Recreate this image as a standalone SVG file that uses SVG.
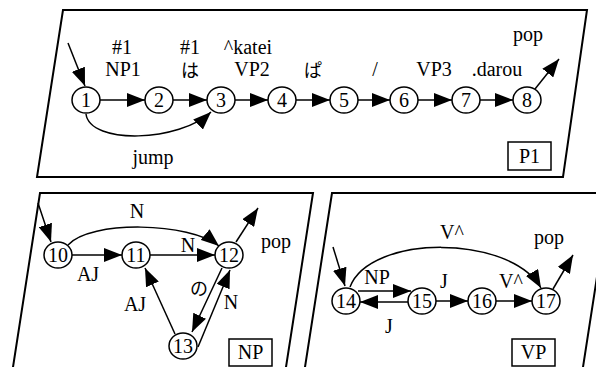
<svg xmlns="http://www.w3.org/2000/svg" width="596" height="367" viewBox="0 0 596 367">
<style>
.panel{fill:none;stroke:#000;stroke-width:2}
.nd{fill:#fff;stroke:#000;stroke-width:1.5}
.num{font-family:"Liberation Serif","Times New Roman",serif;font-size:20px;text-anchor:middle;fill:#000}
.lb{font-family:"Liberation Serif","Times New Roman",serif;font-size:20px;text-anchor:middle;fill:#000}
.jp{font-family:"Noto Sans CJK JP","Noto Sans CJK SC",sans-serif;font-size:18px;text-anchor:middle;fill:#000}
.ed{fill:none;stroke:#000;stroke-width:1.5;marker-end:url(#ah)}
.tag{fill:#fff;stroke:#000;stroke-width:1.5}
</style>
<defs>
<marker id="ah" markerUnits="userSpaceOnUse" viewBox="0 0 18 14" markerWidth="18" markerHeight="14" refX="18" refY="7" orient="auto">
<path d="M0,0 L18,7 L0,14 z" fill="#000"/>
</marker>
</defs>
<rect width="596" height="367" fill="#fff"/>

<g id="panels">
<polygon class="panel" points="63,10 587,10 563,177 37,177"/>
<polygon class="panel" points="40,193 313,193 284,380 11,380"/>
<polygon class="panel" points="332,193 610,193 581,380 303,380"/>
</g>

<g id="connectors">
<!-- P1 -->
<line class="ed" x1="68" y1="43" x2="85" y2="86"/>
<line class="ed" x1="100" y1="100" x2="145" y2="100"/>
<line class="ed" x1="173" y1="100" x2="207" y2="100"/>
<line class="ed" x1="235" y1="100" x2="268" y2="100"/>
<line class="ed" x1="296" y1="100" x2="330" y2="100"/>
<line class="ed" x1="358" y1="100" x2="390" y2="100"/>
<line class="ed" x1="418" y1="100" x2="452" y2="100"/>
<line class="ed" x1="480" y1="100" x2="513" y2="100"/>
<line class="ed" x1="535" y1="89" x2="559" y2="59"/>
<path class="ed" d="M86,114 C90,145 180,142 211,112"/>
<!-- NP -->
<line class="ed" x1="38" y1="203" x2="51" y2="242"/>
<line class="ed" x1="72" y1="255" x2="122" y2="255"/>
<line class="ed" x1="150" y1="255" x2="215" y2="255"/>
<path class="ed" d="M68,245 C90,220 190,222 219,246"/>
<line class="ed" x1="222" y1="268" x2="192" y2="332"/>
<line class="ed" x1="198" y1="347" x2="230" y2="270"/>
<line class="ed" x1="175" y1="334" x2="145" y2="268"/>
<line class="ed" x1="236" y1="242" x2="258" y2="208"/>
<!-- VP -->
<line class="ed" x1="333" y1="247" x2="345" y2="286"/>
<line class="ed" x1="358" y1="291" x2="411" y2="291"/>
<line class="ed" x1="408" y1="302" x2="360" y2="302"/>
<line class="ed" x1="436" y1="301" x2="468" y2="301"/>
<line class="ed" x1="496" y1="301" x2="532" y2="301"/>
<path class="ed" d="M350,287 C370,234 510,234 541,288"/>
<line class="ed" x1="553" y1="289" x2="573" y2="255"/>
</g>

<g id="labels">
<text class="lb" x="122" y="54">#1</text>
<text class="lb" x="123" y="76">NP1</text>
<text class="lb" x="190" y="54">#1</text>
<text class="jp" x="190" y="77">は</text>
<text class="lb" x="248" y="54">^katei</text>
<text class="lb" x="252" y="76">VP2</text>
<text class="jp" x="313" y="77">ぱ</text>
<text class="lb" x="375" y="76">/</text>
<text class="lb" x="434" y="76">VP3</text>
<text class="lb" x="497" y="76">.darou</text>
<text class="lb" x="528" y="41">pop</text>
<text class="lb" x="153" y="164">jump</text>

<text class="lb" x="137" y="218">N</text>
<text class="lb" x="88" y="281">AJ</text>
<text class="lb" x="188" y="252">N</text>
<text class="lb" x="135" y="311">AJ</text>
<text class="jp" x="199" y="295">の</text>
<text class="lb" x="231" y="309">N</text>
<text class="lb" x="276" y="248">pop</text>

<text class="lb" x="452" y="239">V^</text>
<text class="lb" x="377" y="284">NP</text>
<text class="lb" x="444" y="288">J</text>
<text class="lb" x="511" y="288">V^</text>
<text class="lb" x="389" y="333">J</text>
<text class="lb" x="549" y="244">pop</text>
</g>

<g id="tag-P1"><rect class="tag" x="508" y="142" width="43" height="28"/><text class="lb" x="529.5" y="163">P1</text></g>
<g id="tag-NP"><rect class="tag" x="229" y="339" width="43" height="27"/><text class="lb" x="250.5" y="359">NP</text></g>
<g id="tag-VP"><rect class="tag" x="512" y="339" width="43" height="27"/><text class="lb" x="533.5" y="359">VP</text></g>

<g id="n1"><ellipse class="nd" cx="86" cy="100" rx="14" ry="13"/><text class="num" x="86" y="107">1</text></g>
<g id="n2"><ellipse class="nd" cx="159" cy="100" rx="14" ry="13"/><text class="num" x="159" y="107">2</text></g>
<g id="n3"><ellipse class="nd" cx="221" cy="100" rx="14" ry="13"/><text class="num" x="221" y="107">3</text></g>
<g id="n4"><ellipse class="nd" cx="282" cy="100" rx="14" ry="13"/><text class="num" x="282" y="107">4</text></g>
<g id="n5"><ellipse class="nd" cx="344" cy="100" rx="14" ry="13"/><text class="num" x="344" y="107">5</text></g>
<g id="n6"><ellipse class="nd" cx="404" cy="100" rx="14" ry="13"/><text class="num" x="404" y="107">6</text></g>
<g id="n7"><ellipse class="nd" cx="466" cy="100" rx="14" ry="13"/><text class="num" x="466" y="107">7</text></g>
<g id="n8"><ellipse class="nd" cx="527" cy="100" rx="14" ry="13"/><text class="num" x="527" y="107">8</text></g>

<g id="n10"><ellipse class="nd" cx="58" cy="255" rx="14" ry="13"/><text class="num" x="58" y="262">10</text></g>
<g id="n11"><ellipse class="nd" cx="136" cy="255" rx="14" ry="13"/><text class="num" x="136" y="262">11</text></g>
<g id="n12"><ellipse class="nd" cx="229" cy="255" rx="14" ry="13"/><text class="num" x="229" y="262">12</text></g>
<g id="n13"><ellipse class="nd" cx="183" cy="346" rx="14" ry="13"/><text class="num" x="183" y="353">13</text></g>

<g id="n14"><ellipse class="nd" cx="346" cy="301" rx="14" ry="13"/><text class="num" x="346" y="308">14</text></g>
<g id="n15"><ellipse class="nd" cx="422" cy="301" rx="14" ry="13"/><text class="num" x="422" y="308">15</text></g>
<g id="n16"><ellipse class="nd" cx="482" cy="301" rx="14" ry="13"/><text class="num" x="482" y="308">16</text></g>
<g id="n17"><ellipse class="nd" cx="546" cy="301" rx="14" ry="13"/><text class="num" x="546" y="308">17</text></g>
</svg>
